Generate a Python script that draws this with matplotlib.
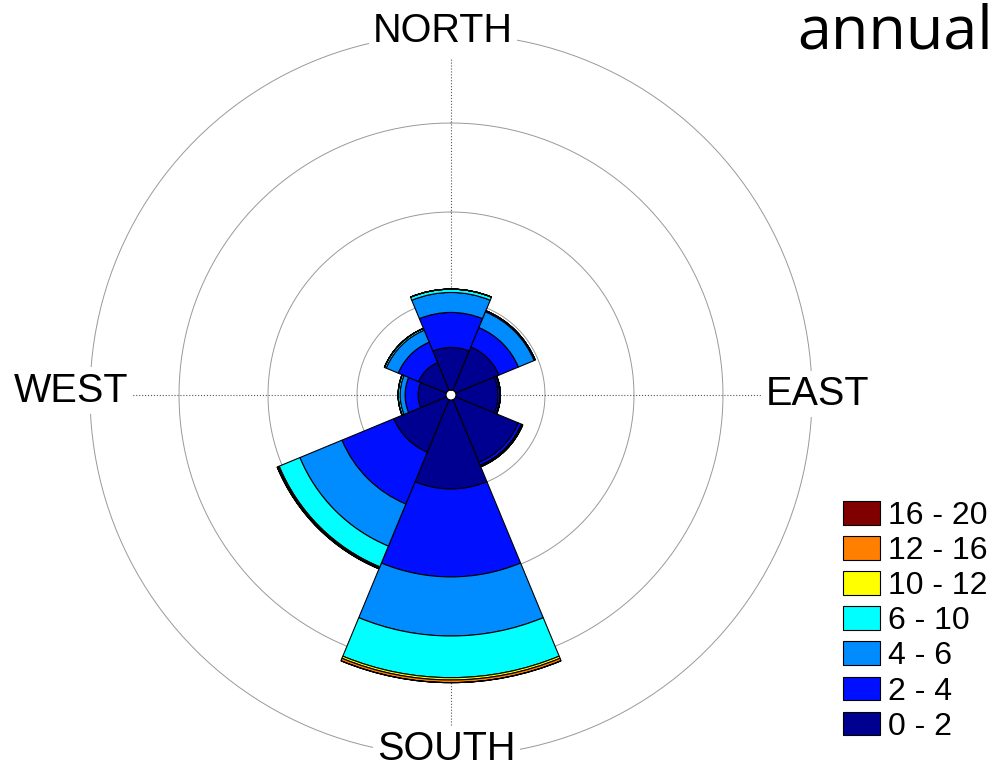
import numpy as np
import matplotlib
matplotlib.use('Agg')
import matplotlib.pyplot as plt

#=========================================================
#                  data (frequency in %)
#=========================================================
a_dir   = ['N', 'NE', 'E', 'SE', 'S', 'SW', 'W', 'NW']
a_theta = np.array([0, 45, 90, 135, 180, 225, 270, 315])  # deg

l_class = ['0 - 2', '2 - 4', '4 - 6', '6 - 10', '10 - 12', '12 - 16', '16 - 20']
l_color = ['#000090', '#0010ff', '#008cff', '#00ffff', '#ffff00', '#ff8000', '#800000']

# one array per speed class, ordered like a_dir
a_v0  = np.array([2.39, 2.64, 2.36, 3.82, 5.00, 3.20, 1.57, 1.69])
a_v1  = np.array([1.97, 1.18, 0.10, 0.17, 4.94, 3.15, 0.73, 1.24])
a_v2  = np.array([1.12, 0.96, 0.03, 0.06, 3.32, 2.56, 0.28, 0.73])
a_v3  = np.array([0.19, 0.06, 0.00, 0.03, 2.34, 1.26, 0.11, 0.11])
a_v4  = np.array([0.00, 0.00, 0.00, 0.00, 0.13, 0.06, 0.00, 0.00])
a_v5  = np.array([0.00, 0.00, 0.00, 0.00, 0.15, 0.06, 0.00, 0.00])
a_v6  = np.array([0.00, 0.00, 0.00, 0.00, 0.00, 0.00, 0.00, 0.00])
l_val = [a_v0, a_v1, a_v2, a_v3, a_v4, a_v5, a_v6]

a_rings = [5, 10, 15, 20]
r_max   = 21.0
r_hole  = 0.28

#=========================================================
#                  Plot
#=========================================================
plt.rcParams['font.family'] = ['Liberation Sans', 'DejaVu Sans']

fig = plt.figure(figsize=(10, 7.66), dpi=100)
fig.patch.set_facecolor('white')

# center at (451, 371) px from bottom left, 17.8 px per %
R_px = (r_max + r_hole) * 17.8
ax = fig.add_axes([(451 - R_px)/1000., (371 - R_px)/766., 2*R_px/1000., 2*R_px/766.],
                  projection='polar')
ax.set_theta_zero_location('N')
ax.set_theta_direction(-1)
ax.set_rorigin(-r_hole)
ax.set_rlim(0, r_max)
ax.grid(False)
ax.spines['polar'].set_visible(False)
ax.set_xticks([])
ax.set_yticks([])
ax.patch.set_alpha(0)

# rings and cross
a_t = np.linspace(0, 2*np.pi, 361)
for r in a_rings:
    ax.plot(a_t, np.full(a_t.shape, r), '-', color='#999999', lw=0.7, zorder=1)
for th in [0, 90, 180, 270]:
    ax.plot([np.radians(th)]*2, [0, 18.6], ':', color='#555555', lw=0.8, zorder=1)

# stacked bars
a_th  = np.radians(a_theta)
a_bot = np.zeros(len(a_dir))
l_h   = []
for i, a_v in enumerate(l_val):
    h = ax.bar(a_th, a_v, width=np.pi/4, bottom=a_bot, color=l_color[i],
               edgecolor='black', linewidth=0.8, zorder=3, label=l_class[i])
    l_h.append(h)
    a_bot = a_bot + a_v

# direction labels
d_box = dict(facecolor='white', edgecolor='none', pad=3)
l_txt = []
l_txt.append(fig.text(0.443, 0.9456, 'NORTH', fontsize=28.5, ha='center', va='baseline', bbox=d_box))
l_txt.append(fig.text(0.4465, 0.0078, 'SOUTH', fontsize=28.5, ha='center', va='baseline', bbox=d_box))
l_txt.append(fig.text(0.071, 0.4756, 'WEST', fontsize=28.5, ha='center', va='baseline', bbox=d_box))
l_txt.append(fig.text(0.8175, 0.4713, 'EAST', fontsize=28.5, ha='center', va='baseline', bbox=d_box))
for t in l_txt:
    t.set_zorder(10)

fig.text(0.993, 0.9373, 'annual', fontsize=44, ha='right', va='baseline',
         family=['Open Sans', 'DejaVu Sans'])

leg = fig.legend(l_h[::-1], l_class[::-1], loc='upper left',
                 bbox_to_anchor=(0.843, 0.346), frameon=False, fontsize=23,
                 handlelength=1.15, handleheight=0.76, handletextpad=0.25,
                 labelspacing=0.16, borderpad=0, borderaxespad=0)

fig.savefig('out.png', dpi=100, facecolor='white')
